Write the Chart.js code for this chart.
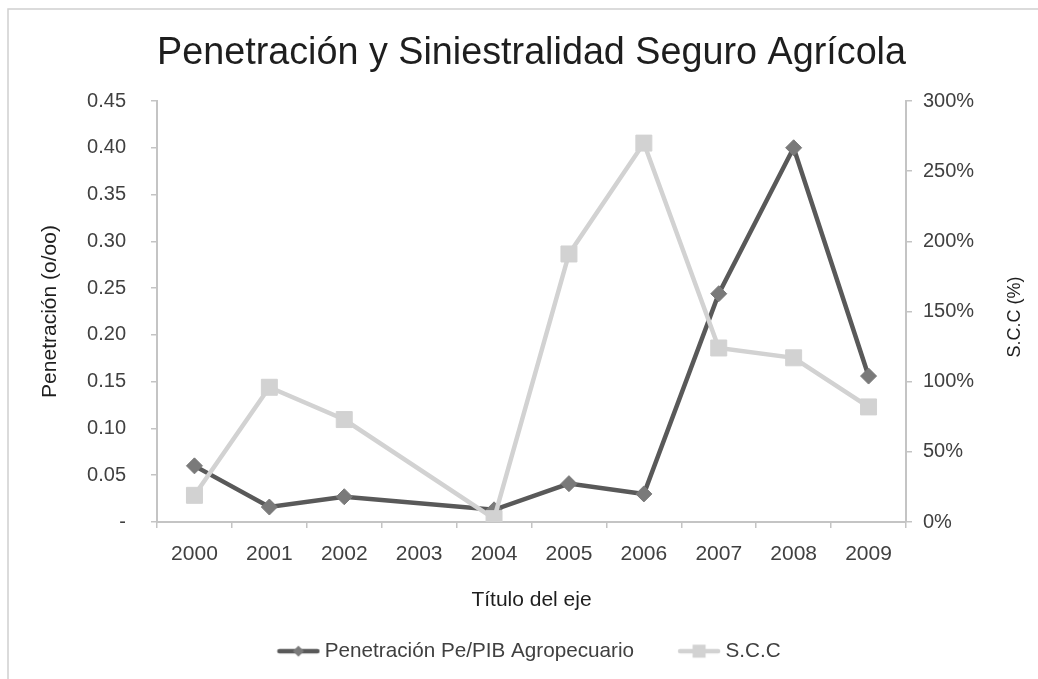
<!DOCTYPE html>
<html>
<head>
<meta charset="utf-8">
<script src="https://cdn.jsdelivr.net/npm/chart.js@4.4.1/dist/chart.umd.min.js"></script>
<style>
    html, body { margin: 0; padding: 0; background: #fff; }
    #contenedor { position: relative; width: 1038px; height: 679px; }
</style>
</head>
<body>
<div id="contenedor"><canvas id="chartSeguro" width="1038" height="679"></canvas></div>
<script>
// Datos
const anios = ['2000', '2001', '2002', '2003', '2004', '2005', '2006', '2007', '2008', '2009'];
const penetracion = [0.060, 0.016, 0.027, null, 0.013, 0.041, 0.030, 0.244, 0.400, 0.156];
const siniestralidad = [19, 96, 73, null, 2.4, 191, 270, 124, 117, 82];
const ticksPenetracion = ['-', '0.05', '0.10', '0.15', '0.20', '0.25', '0.30', '0.35', '0.40', '0.45'];
const ticksSCC = ['0%', '50%', '100%', '150%', '200%', '250%', '300%'];

const FUENTE = "'Liberation Sans', Arial, sans-serif";
const colorEje = '#c4c4c4';
const colorTexto = '#404040';
const colorTitulo = '#1e1e1e';
const colorOscuro = '#595959';
const colorRombo = '#7a7a7a';
const colorClaro = '#d2d2d2';

// muestra de la leyenda: línea con marcador
function muestraLeyenda(colorLinea, colorMarca, forma) {
    const c = document.createElement('canvas');
    c.width = 44;
    c.height = 20;
    const ctx = c.getContext('2d');
    ctx.strokeStyle = colorLinea;
    ctx.lineWidth = 4.5;
    ctx.lineCap = 'round';
    ctx.beginPath();
    ctx.moveTo(3, 10);
    ctx.lineTo(41, 10);
    ctx.stroke();
    ctx.fillStyle = colorMarca;
    ctx.beginPath();
    if (forma === 'rombo') {
        ctx.moveTo(22, 4.5);
        ctx.lineTo(27.5, 10);
        ctx.lineTo(22, 15.5);
        ctx.lineTo(16.5, 10);
        ctx.closePath();
    } else {
        ctx.rect(15.5, 3.5, 13, 13);
    }
    ctx.fill();
    return c;
}

const muestraPen = muestraLeyenda(colorOscuro, colorRombo, 'rombo');
const muestraSCC = muestraLeyenda(colorClaro, colorClaro, 'cuadro');

// marco exterior del gráfico
const marcoPlugin = {
    id: 'marco',
    beforeDraw(chart) {
        const ctx = chart.ctx;
        ctx.save();
        ctx.fillStyle = '#fff';
        ctx.fillRect(0, 0, chart.width, chart.height);
        ctx.strokeStyle = '#d0d0d0';
        ctx.lineWidth = 1.5;
        ctx.strokeRect(8, 9, 1200, 900);
        ctx.restore();
    }
};

// título del eje derecho, leído de abajo hacia arriba como en el original
const tituloDerechoPlugin = {
    id: 'tituloDerecho',
    afterDraw(chart) {
        const ctx = chart.ctx;
        ctx.save();
        ctx.translate(1015, 317);
        ctx.rotate(-Math.PI / 2);
        ctx.font = '18px ' + FUENTE;
        ctx.fillStyle = colorTitulo;
        ctx.textAlign = 'center';
        ctx.textBaseline = 'middle';
        ctx.fillText('S.C.C (%)', 0, 0);
        ctx.restore();
    }
};

const ctxSeguro = document.getElementById('chartSeguro');
const chartSeguro = new Chart(ctxSeguro, {
    type: 'line',
    data: {
        labels: anios,
        datasets: [{
            label: 'Penetración Pe/PIB Agropecuario',
            data: penetracion,
            yAxisID: 'yPen',
            borderColor: colorOscuro,
            borderWidth: 4.5,
            pointStyle: 'rectRot',
            pointRadius: 8,
            pointHoverRadius: 8,
            pointBackgroundColor: colorRombo,
            pointBorderColor: colorRombo,
            pointBorderWidth: 1,
            spanGaps: true,
            tension: 0,
            order: 1
        }, {
            label: 'S.C.C',
            data: siniestralidad,
            yAxisID: 'ySCC',
            borderColor: colorClaro,
            borderWidth: 4.5,
            pointStyle: 'rect',
            pointRadius: 11.3,
            pointHoverRadius: 11.3,
            pointBackgroundColor: colorClaro,
            pointBorderColor: colorClaro,
            pointBorderWidth: 1,
            spanGaps: true,
            tension: 0,
            order: 0
        }]
    },
    options: {
        responsive: false,
        animation: false,
        devicePixelRatio: 1,
        layout: {
            padding: { left: 0, right: 0, top: 0, bottom: 7.5 }
        },
        plugins: {
            title: {
                display: true,
                fullSize: false,
                text: 'Penetración y Siniestralidad Seguro Agrícola',
                color: colorTitulo,
                font: { family: FUENTE, size: 38, weight: 'normal' },
                padding: { top: 31, bottom: 24.4 }
            },
            legend: {
                display: true,
                position: 'bottom',
                fullSize: false,
                labels: {
                    usePointStyle: true,
                    pointStyleWidth: 32,
                    padding: 49,
                    color: colorTexto,
                    font: { family: FUENTE, size: 20.7 },
                    generateLabels: function() {
                        return [{
                            text: 'Penetración Pe/PIB Agropecuario',
                            pointStyle: muestraPen,
                            fillStyle: colorOscuro,
                            strokeStyle: colorOscuro,
                            lineWidth: 0,
                            fontColor: colorTexto,
                            datasetIndex: 0
                        }, {
                            text: 'S.C.C',
                            pointStyle: muestraSCC,
                            fillStyle: colorClaro,
                            strokeStyle: colorClaro,
                            lineWidth: 0,
                            fontColor: colorTexto,
                            datasetIndex: 1
                        }];
                    }
                }
            },
            tooltip: { enabled: false }
        },
        scales: {
            x: {
                type: 'category',
                offset: true,
                grid: {
                    display: true,
                    drawOnChartArea: false,
                    offset: true,
                    tickLength: 6,
                    color: colorEje,
                    lineWidth: 1.5
                },
                border: { color: colorEje, width: 2 },
                ticks: {
                    color: colorTexto,
                    font: { family: FUENTE, size: 21 },
                    padding: 14,
                    maxRotation: 0,
                    autoSkip: false
                },
                title: {
                    display: true,
                    text: 'Título del eje',
                    color: colorTitulo,
                    font: { family: FUENTE, size: 21 },
                    padding: { top: 0, bottom: -21 }
                },
                afterFit: function(scale) {
                    scale.height = 69.8;
                }
            },
            yPen: {
                type: 'linear',
                position: 'left',
                min: 0,
                max: 0.45,
                ticks: {
                    stepSize: 0.05,
                    autoSkip: false,
                    color: colorTexto,
                    font: { family: FUENTE, size: 20 },
                    padding: 25,
                    callback: (v, i) => ticksPenetracion[i]
                },
                grid: {
                    display: true,
                    drawOnChartArea: false,
                    tickLength: 6,
                    color: colorEje,
                    lineWidth: 1.5
                },
                border: { color: colorEje, width: 2 },
                title: {
                    display: true,
                    text: 'Penetración (o/oo)',
                    color: colorTitulo,
                    font: { family: FUENTE, size: 21 },
                    padding: { top: 38, bottom: 0 }
                },
                afterFit: function(scale) {
                    scale.width = 157;
                }
            },
            ySCC: {
                type: 'linear',
                position: 'right',
                min: 0,
                max: 300,
                ticks: {
                    stepSize: 50,
                    autoSkip: false,
                    color: colorTexto,
                    font: { family: FUENTE, size: 20 },
                    padding: 11,
                    callback: (v, i) => ticksSCC[i]
                },
                grid: {
                    display: true,
                    drawOnChartArea: false,
                    tickLength: 6,
                    color: colorEje,
                    lineWidth: 1.5
                },
                border: { color: colorEje, width: 2 },
                afterFit: function(scale) {
                    scale.width = 132;
                }
            }
        }
    },
    plugins: [marcoPlugin, tituloDerechoPlugin]
});
</script>
</body>
</html>
